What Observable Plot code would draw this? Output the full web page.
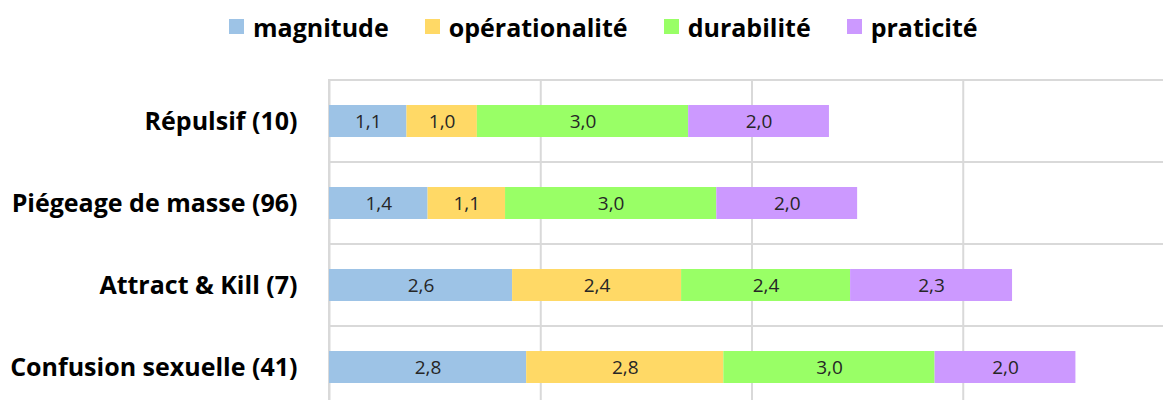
<!DOCTYPE html>
<html><head><meta charset="utf-8">
<script src="https://cdn.jsdelivr.net/npm/d3@7"></script>
<script src="https://cdn.jsdelivr.net/npm/@observablehq/plot@0.6"></script>
<style>
html,body{margin:0;padding:0;overflow:hidden;background:#fff;font-family:"Open Sans",sans-serif;}
#legend{height:53px;display:flex;align-items:center;padding-left:229px;font-weight:bold;font-size:25px;color:#000;box-sizing:border-box;}
.item{display:flex;align-items:center;margin-right:36px;}
.sw{width:15px;height:15px;margin-right:9px;}
#chart svg{max-width:none !important;}
</style></head><body>
<div id="legend"></div><div id="chart"></div>
<script>
const categories = ["Répulsif (10)", "Piégeage de masse (96)", "Attract & Kill (7)", "Confusion sexuelle (41)"];
const seriesNames = ["magnitude", "opérationalité", "durabilité", "praticité"];
const seriesColors = ["#9DC3E6", "#FFD966", "#99FF66", "#CC99FF"];
const magnitude = [1.1, 1.4, 2.6, 2.8];
const operationalite = [1.0, 1.1, 2.4, 2.8];
const durabilite = [3.0, 3.0, 2.4, 3.0];
const praticite = [2.0, 2.0, 2.3, 2.0];
const xTicks = [0, 3, 6, 9, 12];

const seriesValues = [magnitude, operationalite, durabilite, praticite];
const rows = categories.flatMap((c, i) => seriesNames.map((s, j) => ({category: c, series: s, value: seriesValues[j][i]})));
const fmt = v => d3.format(".1f")(v).replace(".", ",");

const legend = document.getElementById("legend");
seriesNames.forEach((s, j) => {
  const it = document.createElement("div");
  it.className = "item";
  const sw = document.createElement("span");
  sw.className = "sw";
  sw.style.background = seriesColors[j];
  const t = document.createElement("span");
  t.textContent = s;
  it.appendChild(sw); it.appendChild(t);
  legend.appendChild(it);
});

const chart = Plot.plot({
  width: 1180,
  height: 355,
  marginTop: 27,
  marginBottom: 0,
  marginLeft: 329,
  marginRight: 6,
  style: {fontFamily: "'Open Sans', sans-serif", background: "#fff"},
  x: {domain: [0, 12], axis: null},
  y: {domain: categories, padding: 0, axis: null},
  color: {domain: seriesNames, range: seriesColors},
  marks: [
    Plot.ruleX(xTicks, {x: d => d, stroke: "#d9d9d9", strokeWidth: 2}),
    Plot.barX(categories, {x1: 0, x2: 12, y: d => d, fill: "none", stroke: "#d9d9d9", strokeWidth: 2}),
    Plot.barX(rows, Plot.stackX({x: "value", y: "category", fill: "series", insetTop: 25, insetBottom: 25})),
    Plot.text(rows, Plot.stackX({x: "value", y: "category", z: "series", text: d => fmt(d.value), fill: "#262626", fontSize: 19})),
    Plot.text(categories, {x: 0, y: d => d, text: d => d, textAnchor: "end", dx: -32, fontWeight: "bold", fontSize: 25, fill: "#000"})
  ]
});
document.getElementById("chart").appendChild(chart);
</script>
</body></html>
